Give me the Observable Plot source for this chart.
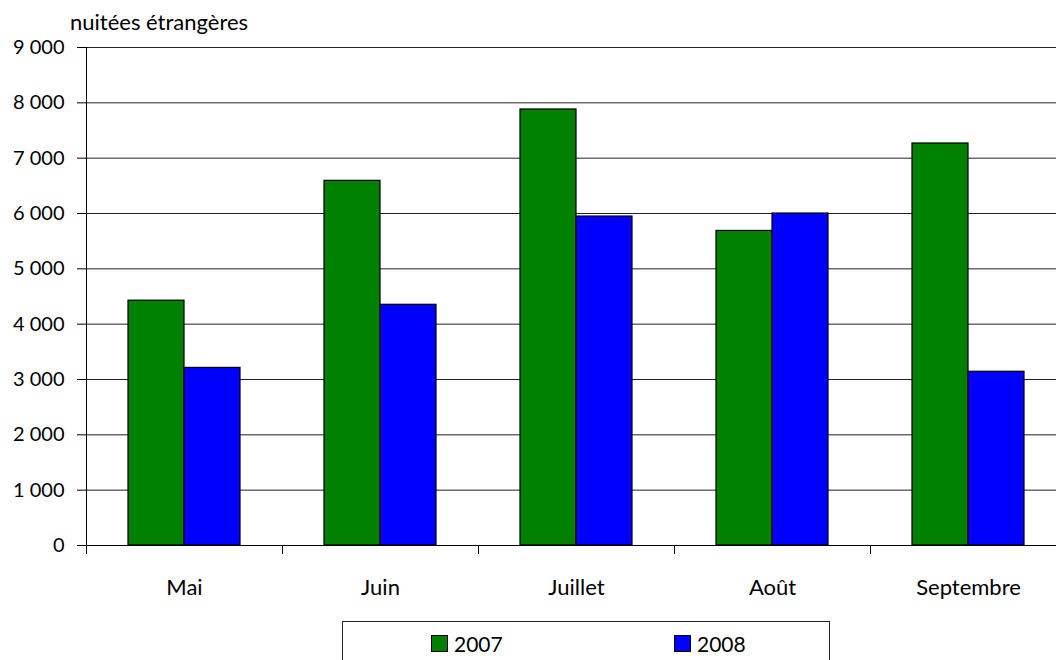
<!DOCTYPE html>
<html>
<head>
<meta charset="utf-8">
<script src="https://cdn.jsdelivr.net/npm/d3@7"></script>
<script src="https://cdn.jsdelivr.net/npm/@observablehq/plot@0.6"></script>
<style>
  body { margin: 0; background: white; font-family: Lato, "DejaVu Sans", sans-serif; }
  #wrap { position: relative; width: 1056px; height: 660px; overflow: hidden; }
  #title { position: absolute; left: 70px; top: 11px; font-size: 22px; line-height: 22px; z-index: 2; color: #000; }
  #legend { position: absolute; left: 342px; top: 621px; width: 486px; height: 60px; border: 1px solid #222; background: white; z-index: 2; }
  .item { position: absolute; top: 11px; font-size: 21px; line-height: 21px; display: flex; align-items: center; }
  .sw { width: 15px; height: 15px; border: 1px solid #000; margin-right: 6px; }
</style>
</head>
<body>
<div id="wrap">
  <div id="title"></div>
  <div id="chart"></div>
  <div id="legend"></div>
</div>
<script>
const months = ["Mai", "Juin", "Juillet", "Août", "Septembre"];
const years = ["2007", "2008"];
const values2007 = [4425, 6590, 7880, 5685, 7265];
const values2008 = [3210, 4350, 5945, 6000, 3140];
const yTicks = [0, 1000, 2000, 3000, 4000, 5000, 6000, 7000, 8000, 9000];
const colors = ["#008000", "#0000ff"];
const titleText = "nuitées étrangères";

const rows = [];
months.forEach((m, i) => {
  rows.push({month: m, year: years[0], value: values2007[i]});
  rows.push({month: m, year: years[1], value: values2008[i]});
});

const fmt = d => d3.format(",")(d).replace(/,/g, " ");
const marginTop = 47, marginBottom = 70, plotH = 498;

const chart = Plot.plot({
  width: 1056,
  height: marginTop + plotH + marginBottom,
  marginLeft: 86,
  marginRight: -10,
  marginTop,
  marginBottom,
  style: {fontFamily: "Lato, 'DejaVu Sans', sans-serif", fontSize: "20px", color: "#000", background: "white"},
  fx: {domain: months, padding: 0, label: null},
  x: {domain: years, paddingInner: 0, paddingOuter: 0.75, axis: null},
  y: {domain: [0, 9000], label: null},
  color: {domain: years, range: colors},
  marks: [
    Plot.gridY(yTicks.slice(1), {stroke: "#222", strokeOpacity: 1, strokeWidth: 1}),
    Plot.barY(rows, {fx: "month", x: "year", y: "value", fill: "year", stroke: "#000", strokeWidth: 1.2}),
    Plot.ruleY([0], {stroke: "#000", strokeWidth: 1}),
    Plot.frame({anchor: "left", facetAnchor: "left", stroke: "#000", insetBottom: -8}),
    Plot.frame({anchor: "left", stroke: "#000", insetTop: plotH, insetBottom: -8}),
    Plot.axisY({ticks: yTicks, tickFormat: fmt, tickSize: 9, tickPadding: 13, label: null, fontSize: 20}),
    Plot.axisFx({anchor: "bottom", tickSize: 0, tickPadding: 34, label: null, fontSize: 22})
  ]
});
document.getElementById("chart").appendChild(chart);
document.getElementById("title").textContent = titleText;

const legend = document.getElementById("legend");
const lefts = [88, 331];
years.forEach((y, i) => {
  const it = document.createElement("div");
  it.className = "item";
  it.style.left = lefts[i] + "px";
  const sw = document.createElement("div");
  sw.className = "sw";
  sw.style.background = colors[i];
  const t = document.createElement("span");
  t.textContent = y;
  it.appendChild(sw); it.appendChild(t);
  legend.appendChild(it);
});
</script>
</body>
</html>
